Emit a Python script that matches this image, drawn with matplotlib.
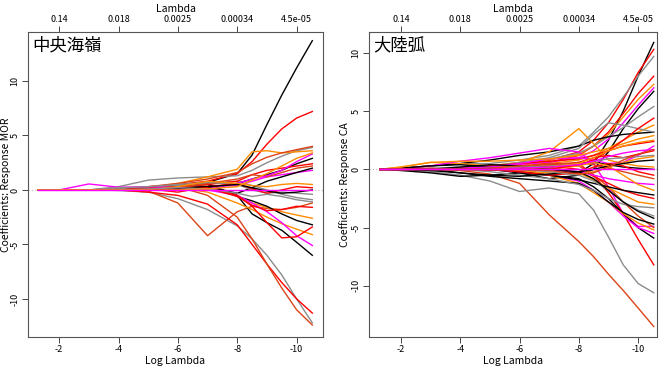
import matplotlib
matplotlib.use('Agg')
import matplotlib.pyplot as plt
import numpy as np

plt.rcParams['font.family'] = ['Noto Sans CJK JP', 'DejaVu Sans']

log_lambda = [-1.29, -2, -3, -4, -5, -6, -7, -8, -8.5, -9, -9.5, -10, -10.53]

BK = 'black'
RD = 'red'
OR = '#ff8c00'
GR = '#8c8c8c'
MG = 'magenta'
OD = '#dc4418'

# 中央海嶺 (MOR) coefficient paths: (colour, values)
mor_paths = [
    (BK, [0, 0, 0, 0.05, 0.2, 0.4, 0.7, 1.5, 3.2, 6, 8.7, 11.2, 13.7]),
    (RD, [0, 0, 0, 0.1, 0.3, 0.5, 0.8, 1.5, 2.6, 4.2, 5.6, 6.6, 7.2]),
    (GR, [0, 0, 0, -0.05, -0.2, -0.8, -1.8, -3.3, -4.5, -6, -7.8, -10, -12.2]),
    (OD, [0, 0, 0, 0, -0.1, -1.2, -4.2, -2, -1.5, -1.7, -1.8, -1.6, -1.2]),
    (RD, [0, 0, 0, 0, -0.2, -0.5, -1.3, -3.2, -5, -6.8, -8.5, -10, -11.3]),
    (OD, [0, 0, 0, 0, 0.1, 0.3, -0.5, -2.5, -4.5, -6.8, -9, -11, -12.4]),
    (GR, [0, 0, 0, 0.3, 0.9, 1.1, 1.2, 1.3, 1.8, 2.5, 3.1, 3.6, 3.9]),
    (OR, [0, 0, 0, 0, 0.2, 0.6, 1.2, 1.9, 3.5, 3.6, 3.4, 3.5, 3.6]),
    (OD, [0, 0, 0, 0.1, 0.3, 0.6, 1.0, 1.6, 2.4, 3.0, 3.4, 3.7, 4.0]),
    (OR, [0, 0, 0, 0, 0, 0.2, 0.5, -0.5, -1.2, -1.6, -2, -2.3, -2.6]),
    (BK, [0, 0, 0, 0, 0.1, 0.3, 0.6, -0.6, -1.0, -1.5, -2.2, -2.8, -3.2]),
    (BK, [0, 0, 0, 0, 0.2, 0.4, 0.5, -0.5, -2.2, -3, -3.7, -4.8, -6.0]),
    (OR, [0, 0, 0, 0, 0, 0.2, -0.2, -1.2, -1.8, -2.5, -3.1, -3.6, -4.1]),
    (MG, [0, 0, 0, 0, 0, 0, 0, -0.5, -1.2, -2, -3, -4.2, -5.1]),
    (RD, [0, 0, 0, 0, 0, 0.2, 0.3, -0.5, -1.5, -3.0, -4.4, -4.3, -3.4]),
    (GR, [0, 0, 0, 0.1, 0.2, 0.4, 0.6, 0.8, 0.4, 0, -0.4, -0.7, -0.9]),
    (MG, [0, 0, 0, 0, 0.1, 0.1, 0.3, 0.4, 0.8, 1.2, 1.4, 1.6, 1.8]),
    (BK, [0, 0, 0, 0, 0.1, 0.2, 0.3, -0.3, 0.2, 0.8, 1.2, 1.6, 2.0]),
    (BK, [0, 0, 0, 0, 0, 0.1, 0.2, 0.6, 1.0, 1.4, 1.8, 2.4, 2.9]),
    (RD, [0, 0, 0, 0, 0.2, 0.3, 0.5, 0.8, 1.4, 1.8, 2.0, 2.2, 2.4]),
    (OD, [0, 0, 0, 0, 0, 0.2, 0.6, 1.0, 1.4, 1.2, 1.6, 2.0, 2.2]),
    (MG, [0, 0, 0.55, 0.25, 0.3, 0.2, 0.1, 0.6, 1.0, 1.3, 1.8, 2.6, 3.3]),
    (GR, [0, 0, 0, 0.2, 0.3, 0.5, 0.7, 0.5, 0, -0.3, -0.2, -0.3, -0.4]),
    (RD, [0, 0, 0, 0, 0.1, -0.2, 0.3, 0.6, 0.1, -0.3, 0, 0.3, 0.2]),
    (OR, [0, 0, 0, 0, 0, 0.3, 0.8, 0.6, 0.4, 0.3, 0.5, 0.6, 0.5]),
    (BK, [0, 0, 0, 0, 0, 0.1, 0.3, 0.5, 0.2, -0.1, -0.3, -0.2, 0]),
    (RD, [0, 0, 0, 0, 0, 0, 0.2, -0.6, -1.4, -1.9, -1.8, -1.5, -1.6]),
    (GR, [0, 0, 0, 0, 0.1, 0.2, 0.1, -0.3, -0.6, -0.4, -0.6, -0.9, -1.1]),
    (OR, [0, 0, 0, 0, 0, 0, 0.1, 0.3, 0.9, 1.5, 2.2, 2.9, 3.4]),
    (MG, [0, 0, 0, 0, 0, 0, 0, 0, 0, 0, 0, 0, 0]),
]

# 大陸弧 (CA) coefficient paths
ca_paths = [
    (BK, [0, 0, 0, 0, 0, 0.2, 0, -0.3, 0.5, 2.5, 5, 8, 10.9]),
    (RD, [0, 0, 0, 0, 0.2, 0.3, 0.8, 1.5, 2.5, 4, 6, 8.3, 10.3]),
    (GR, [0, 0.1, 0.3, 0.5, 0.5, 0.8, 1.2, 2, 3.2, 4.5, 6.2, 8, 9.7]),
    (RD, [0, 0, 0, 0, -0.1, 0.2, 0.6, 1.2, 2, 3.2, 4.8, 6.5, 8.0]),
    (OR, [0, 0, 0, 0.1, 0.3, 0.5, 0.8, 1.3, 2, 3, 4.5, 6, 7.3]),
    (MG, [0, 0, 0, 0, 0.2, 0.4, 0.6, 1, 1.6, 2.6, 4, 5.5, 7.0]),
    (BK, [0, 0, 0, 0, 0, -0.3, -0.8, -0.5, 0, 1.5, 3.5, 5.2, 6.7]),
    (GR, [0, 0, 0, 0.1, 0.3, 0.5, 0.9, 1.4, 2.0, 2.8, 3.6, 4.5, 5.4]),
    (OR, [0, 0, 0, 0, 0.1, 0.3, 0.5, 0.8, 1.2, 1.8, 2.5, 3.2, 3.8]),
    (BK, [0, 0.1, 0.3, 0.5, 0.8, 1.2, 1.5, 2, 2.5, 2.8, 3.0, 3.1, 3.2]),
    (OR, [0, 0.2, 0.6, 0.5, 0.3, 0.6, 1.5, 3.5, 2.2, 0.8, 0.5, 0.3, 0.2]),
    (GR, [0, 0, 0.1, 0.2, 0.3, 0.6, 1, 1.8, 3.0, 4, 3.8, 3.5, 3.2]),
    (RD, [0, 0, 0, 0.1, 0.3, 0.5, 0.7, 0.9, 1.2, 1.6, 2.0, 2.2, 2.4]),
    (MG, [0, 0.05, 0.3, 0.7, 1.0, 1.4, 1.8, 1.5, 0.5, -1.5, -3.8, -4.9, -4.9]),
    (OD, [0, 0.05, 0.1, -0.1, -0.4, -1.2, -3.9, -6.2, -7.5, -9, -10.4, -11.9, -13.5]),
    (GR, [0, -0.05, -0.2, -0.5, -1.0, -1.9, -1.6, -2.1, -3.5, -5.8, -8.2, -9.8, -10.6]),
    (RD, [0, 0, 0, 0, 0.1, 0.2, 0.5, 0.5, -0.5, -2.0, -3.8, -6, -8.2]),
    (BK, [0, -0.1, -0.3, -0.6, -0.5, -0.3, -0.5, -0.8, -1.5, -2.5, -3.8, -5, -5.9]),
    (MG, [0, 0, 0, 0, 0, -0.2, -0.5, -1, -1.8, -2.8, -4, -5, -5.5]),
    (OR, [0, 0, 0, 0.1, 0.2, 0, -0.5, -1.2, -2, -2.8, -3.8, -4.6, -5.2]),
    (OD, [0, 0, 0, 0, 0, 0.2, 0.5, 0.3, -0.5, -1.5, -2.8, -4, -5.0]),
    (BK, [0, 0, 0, -0.3, -0.6, -0.8, -1, -1.2, -1.8, -2.8, -3.7, -4.3, -4.7]),
    (GR, [0, 0, 0, 0, -0.2, -0.5, -0.8, -1.3, -1.8, -2.5, -3.0, -3.2, -3.3]),
    (OR, [0, 0, 0, 0, 0.1, 0.3, 0.2, -0.3, -0.9, -1.6, -2.2, -2.8, -3.0]),
    (RD, [0, 0, 0, 0, 0, 0.1, 0.3, 0, -0.6, -1.2, -1.8, -2.2, -2.5]),
    (BK, [0, 0.1, 0.3, 0.4, 0.2, -0.2, -0.5, -0.9, -1.2, -1.5, -1.8, -2, -2.2]),
    (MG, [0, 0, 0, 0.1, 0.2, 0.5, 0.9, 1.0, 0.8, 0.5, 0.6, 1.2, 2.0]),
    (OR, [0, 0.2, 0.6, 0.7, 0.7, 0.8, 0.9, 1.2, 1.5, 1.8, 2.2, 2.6, 2.9]),
    (RD, [0, 0, 0, 0, 0, 0, 0.2, 0.6, 1.0, 1.2, 1.0, 1.3, 1.6]),
    (BK, [0, 0, 0, 0.2, 0.4, 0.3, 0.2, 0.4, 0.6, 0.4, 0.2, 0.1, 0.0]),
    (GR, [0, 0, 0, 0, 0.1, 0.2, 0.3, 0.5, 0.7, 0.9, 1.0, 1.1, 1.2]),
    (OR, [0, 0, 0, 0, 0, -0.1, -0.3, -0.4, -0.2, 0.2, 0.6, 0.9, 1.1]),
    (OD, [0, 0, 0, 0, 0.1, 0.3, 0.4, 0.6, 0.4, 0.1, -0.2, -0.5, -0.8]),
    (MG, [0, 0, 0, 0, 0, 0, 0, -0.2, -0.5, -0.8, -1.0, -1.2, -1.3]),
    (RD, [0, 0, 0, 0, 0, -0.2, -0.5, -0.3, 0.2, 0.5, 0.3, -0.2, -0.5]),
    (BK, [0, 0, -0.1, -0.3, -0.5, -0.6, -0.4, -0.2, 0, 0.3, 0.5, 0.7, 0.8]),
    (OR, [0, 0, 0, 0, 0, 0, 0, 0.3, 0.6, 0.3, -0.5, -1.3, -1.8]),
    (GR, [0, 0, 0, 0, 0, 0, -0.2, -0.5, -1, -1.8, -2.8, -3.5, -4.0]),
    (RD, [0, 0, 0, 0, 0, 0, 0, 0.4, 0.8, 1.6, 2.5, 3.5, 4.4]),
    (OR, [0, 0, 0, 0, 0, 0, 0.2, 0.5, 1.0, 1.6, 2.0, 2.3, 2.5]),
    (BK, [0, 0, 0, 0, 0, 0, 0, -0.2, -0.8, -1.8, -2.8, -3.6, -4.2]),
    (MG, [0, 0, 0, 0, 0, 0.1, 0.2, 0.4, 0.7, 1.1, 1.4, 1.6, 1.7]),
    (OD, [0, 0, 0, 0, 0, 0, -0.1, -0.4, -0.3, 0.2, 0.8, 1.3, 1.7]),
    (MG, [0, 0, 0, 0, 0, 0, 0, 0, 0, 0, 0, 0, 0]),
]

tick_pos = [-2, -4, -6, -8, -10]
top_labels = ['0.14', '0.018', '0.0025', '0.00034', '4.5e-05']
y_ticks = [-10, -5, 0, 5, 10]

fig = plt.figure(figsize=(6.64, 3.70), dpi=100)

panels = [
    ([28, 323], (-0.95, -10.89), (-13.5, 14.5), mor_paths,
     '中央海嶺', 'Coefficients: Response MOR', 11),
    ([369, 657], (-0.92, -10.64), (-14.4, 11.8), ca_paths,
     '大陸弧', 'Coefficients: Response CA', 350),
]

for (px, xl, yl, paths, title, ylab, ylab_x) in panels:
    w = px[1] - px[0]
    ax = fig.add_axes([px[0] / 664, 33 / 370, w / 664, 305 / 370])
    ax.axhline(0, color='#bbbbbb', lw=0.8, ls=(0, (1, 2)), zorder=0)
    for col, vals in paths:
        ax.plot(log_lambda, vals, color=col, lw=1.0)
    ax.set_xlim(xl)
    ax.set_ylim(yl)
    ax.set_xticks(tick_pos)
    ax.set_xticklabels([str(t) for t in tick_pos])
    ax.set_yticks(y_ticks)
    ax.set_yticklabels([str(t) for t in y_ticks], rotation=90, va='center')
    ax.tick_params(labelsize=6.5, length=4, width=0.7, color='#444444', pad=2)
    for s in ax.spines.values():
        s.set_color('#555555')
        s.set_linewidth(0.8)
    ax.set_xlabel('Log Lambda', fontsize=7.5, labelpad=1)
    ax.set_ylabel(ylab, fontsize=7.5)
    ax.yaxis.set_label_coords((ylab_x - px[0]) / w, 0.5)
    ax.text(0.015, 0.985, title, transform=ax.transAxes, fontsize=12.5,
            va='top', ha='left')
    top = ax.secondary_xaxis('top')
    top.set_xticks(tick_pos)
    top.set_xticklabels(top_labels)
    top.tick_params(labelsize=6.5, length=4, width=0.7, color='#444444', pad=2)
    top.spines['top'].set_visible(False)
    top.set_xlabel('Lambda', fontsize=7.5, labelpad=2)

fig.savefig('out.png', dpi=100)
